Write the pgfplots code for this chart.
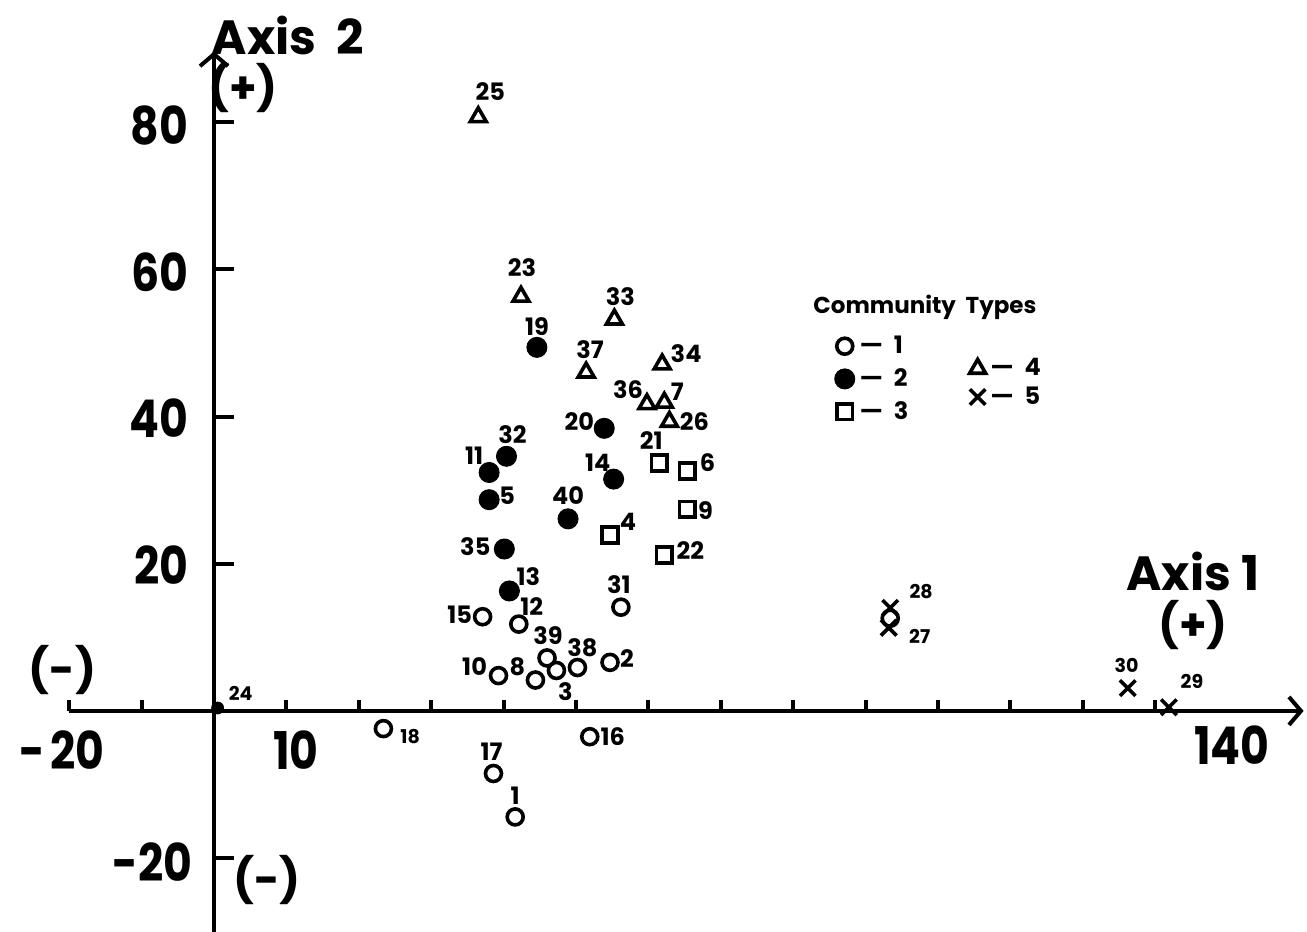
\documentclass[border=0pt]{standalone}
\usepackage{fontspec}
\setmainfont{Poppins}
\usepackage{graphicx}
\usepackage{pgfplots}
\pgfplotsset{compat=1.18}
\usepackage{pgfplotstable}
\usetikzlibrary{arrows.meta}

% Community type 1 (open circles)
\pgfplotstableread{
x y
41.6 -14.4
54.7 6.6
47.3 5.5
44.4 4.2
39.3 4.8
42.1 11.8
37.1 12.8
51.9 -3.5
38.6 -8.5
23.4 -2.4
56.2 14.1
50.2 5.9
46.0 7.2
93.4 12.6
}\typeone
% Community type 2 (filled circles)
\pgfplotstableread{
x y
38.0 28.7
38.0 32.4
40.8 16.3
55.2 31.5
44.6 49.4
53.9 38.4
40.4 34.6
40.1 22.0
48.9 26.1
}\typetwo
\pgfplotstableread{
x y
0.5 0.4
}\typetwob
% Community type 3 (squares)
\pgfplotstableread{
x y
54.7 23.9
65.4 32.6
65.4 27.4
61.5 33.7
62.2 21.2
}\typethree
% Community type 4 (triangles)
\pgfplotstableread{
x y
62.2 41.9
42.4 56.3
36.5 80.7
62.9 39.3
55.3 53.2
61.9 47.1
59.8 41.7
51.4 46.0
}\typefour
% Community type 5 (crosses)
\pgfplotstableread{
x y
93.2 11.3
93.4 14.0
131.9 0.5
126.2 3.1
}\typefive
% Stand number labels (large)
\pgfplotstableread{
x y lab
41.6 -11.55 1
57.05 7.14 2
48.54 2.65 3
41.91 5.97 8
35.99 6.02 10
43.9 14.25 12
33.92 13.07 15
55.08 -3.5 16
38.32 -5.51 17
55.92 17.23 31
50.89 8.62 38
46.14 10.19 39
40.49 29.24 5
35.93 34.71 11
43.42 18.2 13
52.99 33.67 14
44.6 52.25 19
50.45 39.35 20
41.23 37.59 32
36.09 22.27 35
48.9 29.23 40
57.19 25.67 4
68.16 33.69 6
67.89 27.26 9
60.4 36.69 21
65.79 21.74 22
64.0 43.39 7
42.54 60.24 23
38.16 84.1 25
66.35 39.3 26
56.13 56.33 33
65.21 48.59 34
57.18 43.6 36
51.95 49.13 37
}\labbig
% Stand number labels (small)
\pgfplotstableread{
x y lab
27.1 -3.5 18
3.68 2.44 24
97.48 10.08 27
97.68 16.17 28
135.08 4.03 29
126.06 6.23 30
}\labsmall

\newcommand{\tl}[1]{\scalebox{0.85}[1]{#1}}
\newcommand{\ld}[1]{\scalebox{1.5}[1]{--}\hspace{5pt}#1}

\pgfplotsset{
  frame/.style={
    x=3.62pt, y=3.68pt,
    xmin=-20, xmax=150.5, ymin=-30, ymax=89.6,
    clip=false,
    legend cell align=left,
    legend image code/.code={\draw[##1] plot coordinates {(0pt,0pt)};},
  },
  leg/.style={legend style={draw=none, fill=none, anchor=north west,
    font=\fontsize{12}{13}\selectfont\bfseries, column sep=0pt}},
}

\begin{document}
\begin{tikzpicture}
\begin{axis}[
  frame, leg,
  axis lines=middle,
  axis line style={line width=2pt, -{Straight Barb[length=6pt,width=14pt]}},
  xtick=\empty, ytick=\empty,
  legend style={at={(0.6150,0.6864)}, row sep=2pt},
]
\addplot[only marks, mark=o, mark size=4pt, line width=1.8pt, black]
  table[x=x,y=y]{\typeone};
\addlegendentry{\ld{1}}
\addplot[only marks, mark=*, mark size=5pt, line width=0.5pt, black, fill=black]
  table[x=x,y=y]{\typetwo};
\addlegendentry{\ld{2}}
\addplot[only marks, mark=square, mark size=3.9pt, line width=1.8pt, black]
  table[x=x,y=y]{\typethree};
\addlegendentry{\ld{3}}
\addplot[forget plot, only marks, mark=*, mark size=3pt, black, fill=black]
  table[x=x,y=y]{\typetwob};
% stand labels
\addplot[forget plot, only marks, mark=none, point meta=explicit symbolic,
  nodes near coords, every node near coord/.append style={anchor=center, inner sep=0pt,
  font=\fontsize{12}{12}\selectfont\bfseries, text=black}]
  table[x=x,y=y,meta=lab]{\labbig};
\addplot[forget plot, only marks, mark=none, point meta=explicit symbolic,
  nodes near coords, every node near coord/.append style={anchor=center, inner sep=0pt,
  font=\fontsize{9.5}{9.5}\selectfont\bfseries, text=black}]
  table[x=x,y=y,meta=lab]{\labsmall};

% tick marks
\pgfplotsinvokeforeach{-20,-10,10,20,30,40,50,60,70,80,90,100,110,120,130}{
  \draw[line width=2pt] (axis cs:#1,0) -- ++(0pt,5.5pt);
}
\pgfplotsinvokeforeach{-20,20,40,60,80}{
  \draw[line width=2pt] (axis cs:0,#1) -- ++(10pt,0pt);
}
% tick labels
\begin{scope}[font=\fontsize{26}{26}\selectfont\bfseries]
\node at (axis cs:-21.0,-5.3) {\tl{-\hspace{3pt}20}};
\node at (axis cs:11.3,-5.3) {\tl{10}};
\node at (axis cs:140.6,-4.6) {\tl{140}};
\node[anchor=east] at (axis cs:-2.6,79.6) {\tl{80}};
\node[anchor=east] at (axis cs:-2.6,59.6) {\tl{60}};
\node[anchor=east] at (axis cs:-2.6,39.8) {\tl{40}};
\node[anchor=east] at (axis cs:-2.6,19.8) {\tl{20}};
\node[anchor=east] at (axis cs:-2.0,-20.5) {\tl{-20}};
\end{scope}
% axis titles
\node[font=\fontsize{24}{24}\selectfont\bfseries] at (axis cs:10.2,91.8) {Axis\ \ 2};
\node[font=\fontsize{24}{24}\selectfont\bfseries] at (axis cs:135.2,18.9) {Axis 1};
\node[font=\fontsize{22}{22}\selectfont\bfseries] at (axis cs:4.0,84.6) {(+)};
\node[font=\fontsize{22}{22}\selectfont\bfseries] at (axis cs:135.2,11.7) {(+)};
\node[font=\fontsize{22}{22}\selectfont\bfseries] at (axis cs:-20.9,5.6) {(-)};
\node[font=\fontsize{22}{22}\selectfont\bfseries] at (axis cs:7.3,-23.0) {(-)};
% legend title
\node[font=\fontsize{11.5}{11.5}\selectfont\bfseries] at (axis cs:98.2,54.8) {Community\ \ Types};
% bounding box corners
\coordinate (bbbl) at (axis cs:-29.56,-30.03);
\coordinate (bbtr) at (axis cs:150.97,96.6);
\end{axis}
% second, identical frame carrying community types 4 and 5 (second legend column)
\begin{axis}[
  frame, leg, hide axis,
  legend style={at={(0.7243,0.6608)}, row sep=0pt},
]
\addplot[only marks, mark=triangle, mark size=4.6pt, line width=1.8pt, black]
  table[x=x,y=y]{\typefour};
\addlegendentry{\ld{4}}
\addplot[only marks, mark=x, mark size=5.5pt, line width=1.8pt, black]
  table[x=x,y=y]{\typefive};
\addlegendentry{\ld{5}}
\end{axis}
\pgfresetboundingbox
\useasboundingbox (bbbl) rectangle (bbtr);
\end{tikzpicture}
\end{document}
